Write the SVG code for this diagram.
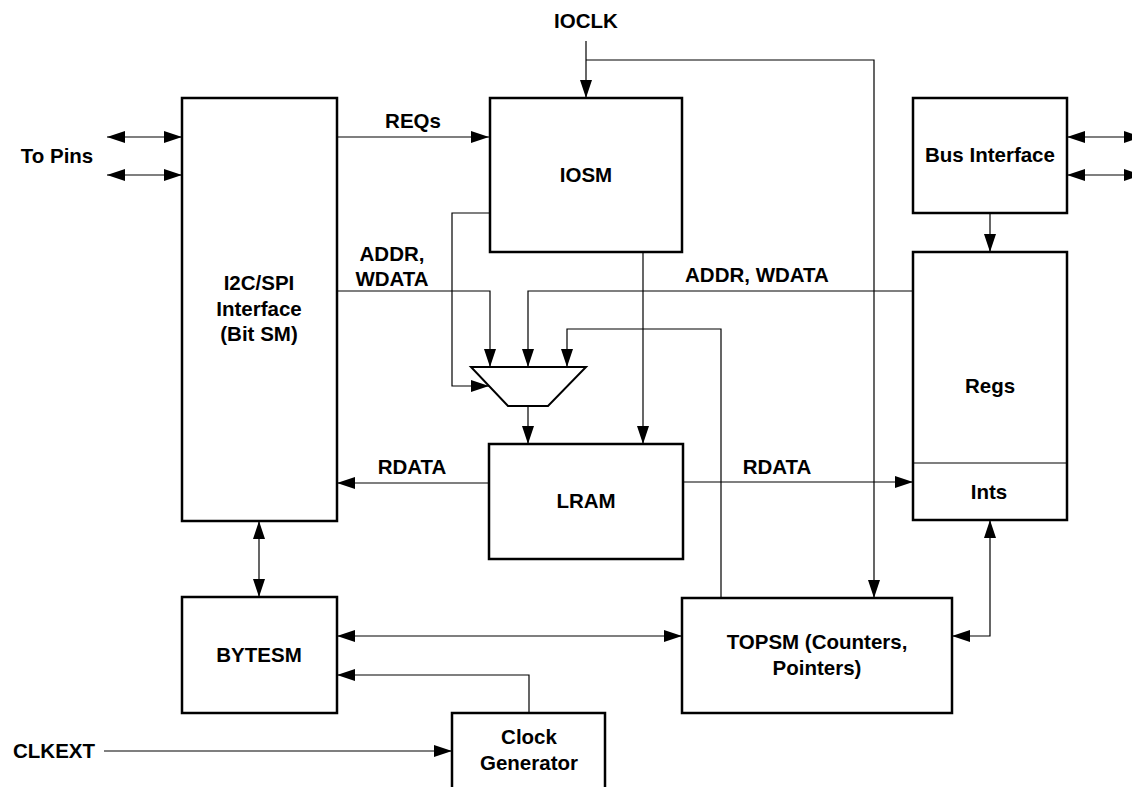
<svg xmlns="http://www.w3.org/2000/svg" width="1132" height="787" viewBox="0 0 1132 787">
<style>
.box{fill:#fff;stroke:#000;stroke-width:2.5}
.ln{fill:none;stroke:#000;stroke-width:1.2}
text{font-family:"Liberation Sans",Arial,sans-serif;font-weight:bold;font-size:20.5px;fill:#000;text-anchor:middle}
</style>
<defs>
<marker id="ah" markerUnits="userSpaceOnUse" markerWidth="18" markerHeight="12" refX="18" refY="6" orient="auto-start-reverse">
<path d="M0,0 L18,6 L0,12 z" fill="#000"/>
</marker>
</defs>
<rect width="1132" height="787" fill="#fff"/>
<g id="connectors">
<line class="ln" x1="107" y1="137" x2="182" y2="137" marker-start="url(#ah)" marker-end="url(#ah)"/>
<line class="ln" x1="107" y1="175" x2="182" y2="175" marker-start="url(#ah)" marker-end="url(#ah)"/>
<line class="ln" x1="337" y1="137" x2="489" y2="137" marker-end="url(#ah)"/>
<line class="ln" x1="586" y1="41" x2="586" y2="98" marker-end="url(#ah)"/>
<polyline class="ln" points="586,60 874,60 874,598" marker-end="url(#ah)"/>
<line class="ln" x1="1067" y1="137" x2="1142" y2="137" marker-start="url(#ah)" marker-end="url(#ah)"/>
<line class="ln" x1="1067" y1="175" x2="1142" y2="175" marker-start="url(#ah)" marker-end="url(#ah)"/>
<line class="ln" x1="990" y1="213" x2="990" y2="252" marker-end="url(#ah)"/>
<polyline class="ln" points="337,291 490,291 490,367" marker-end="url(#ah)"/>
<polyline class="ln" points="913,291 528,291 528,367" marker-end="url(#ah)"/>
<polyline class="ln" points="721,598 721,329 567,329 567,367" marker-end="url(#ah)"/>
<polyline class="ln" points="490,213 452,213 452,386 489,386" marker-end="url(#ah)"/>
<line class="ln" x1="528" y1="406" x2="528" y2="444" marker-end="url(#ah)"/>
<line class="ln" x1="643" y1="252" x2="643" y2="444" marker-end="url(#ah)"/>
<line class="ln" x1="489" y1="483" x2="337" y2="483" marker-end="url(#ah)"/>
<line class="ln" x1="683" y1="482" x2="913" y2="482" marker-end="url(#ah)"/>
<line class="ln" x1="259" y1="521" x2="259" y2="597" marker-start="url(#ah)" marker-end="url(#ah)"/>
<line class="ln" x1="337" y1="636" x2="682" y2="636" marker-start="url(#ah)" marker-end="url(#ah)"/>
<polyline class="ln" points="990,520 990,636 952,636" marker-start="url(#ah)" marker-end="url(#ah)"/>
<polyline class="ln" points="529,713 529,675 337,675" marker-end="url(#ah)"/>
<line class="ln" x1="104" y1="751" x2="452" y2="751" marker-end="url(#ah)"/>
</g>
<g id="i2c"><rect class="box" x="182" y="98" width="155" height="423"/>
<text x="259" y="290">I2C/SPI</text><text x="259" y="316">Interface</text><text x="259" y="341">(Bit SM)</text></g>
<g id="iosm"><rect class="box" x="490" y="98" width="192" height="154"/><text x="586" y="182">IOSM</text></g>
<g id="bus"><rect class="box" x="913" y="98" width="154" height="115"/><text x="990" y="162">Bus Interface</text></g>
<g id="regs"><rect class="box" x="913" y="252" width="154" height="268"/>
<line x1="913" y1="463" x2="1067" y2="463" stroke="#000" stroke-width="1.2"/>
<text x="990" y="393">Regs</text><text x="989" y="499">Ints</text></g>
<g id="mux"><polygon points="471,367 586,367 548,406 508,406" fill="#fff" stroke="#000" stroke-width="2"/></g>
<g id="lram"><rect class="box" x="489" y="444" width="194" height="115"/><text x="586" y="508">LRAM</text></g>
<g id="bytesm"><rect class="box" x="182" y="597" width="155" height="116"/><text x="259" y="662">BYTESM</text></g>
<g id="topsm"><rect class="box" x="682" y="598" width="270" height="115"/>
<text x="817" y="649">TOPSM (Counters,</text><text x="817" y="675">Pointers)</text></g>
<g id="clock"><rect class="box" x="452" y="713" width="153" height="110"/>
<text x="529" y="744">Clock</text><text x="529" y="770">Generator</text></g>
<g id="labels">
<text x="57" y="163">To Pins</text>
<text x="586" y="28">IOCLK</text>
<text x="413" y="128">REQs</text>
<text x="392" y="261">ADDR,</text><text x="392" y="286">WDATA</text>
<text x="757" y="282">ADDR, WDATA</text>
<text x="412" y="474">RDATA</text>
<text x="777" y="474">RDATA</text>
<text x="54" y="758">CLKEXT</text>
</g>
</svg>
